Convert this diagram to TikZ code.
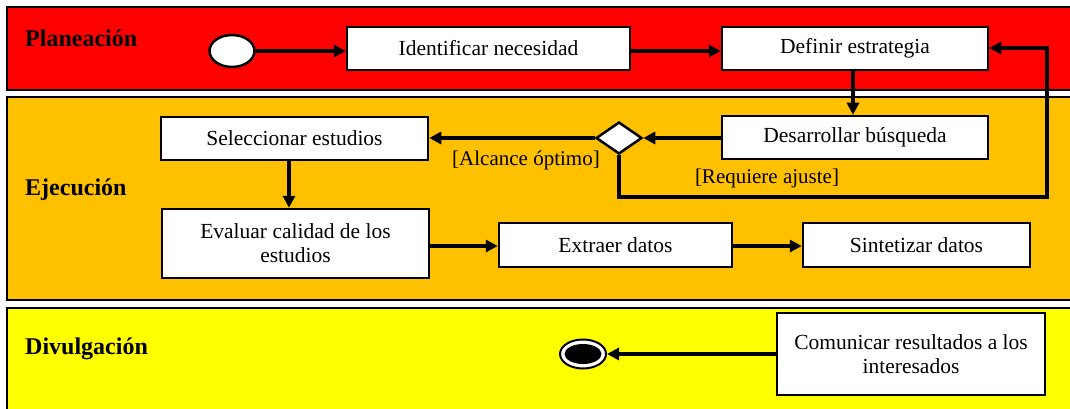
\documentclass[tikz,border=0pt]{standalone}
\usepackage{fontspec}
\setmainfont{Liberation Serif}
\usetikzlibrary{shapes.geometric,arrows.meta}
\definecolor{lanered}{HTML}{FF0000}
\definecolor{laneorange}{HTML}{FFC000}
\definecolor{laneyellow}{HTML}{FFFF00}
\begin{document}
\begin{tikzpicture}[x=1pt,y=-1pt,
  lane/.style={draw=black,line width=2.5pt},
  act/.style={draw=black,fill=white,line width=2.5pt,minimum width=#1,minimum height=43pt,inner sep=0pt,align=center,font=\fontsize{21.5}{24}\selectfont},
  act/.default=266pt,
  flow/.style={line width=3.2pt,-{Triangle[length=12pt,width=12pt]}},
  lanelabel/.style={anchor=west,font=\fontsize{24}{27}\selectfont\bfseries,inner sep=0pt},
  guard/.style={font=\fontsize{21}{24}\selectfont,inner sep=0pt}
]
\useasboundingbox (0,0) rectangle (1070,409);
\fill[white] (0,0) rectangle (1070,409);
% lanes
\draw[lane,fill=lanered] (7,7) rectangle (1080,90);
\draw[lane,fill=laneorange] (7,97) rectangle (1080,300);
\draw[lane,fill=laneyellow] (7,308) rectangle (1080,418);
\node[lanelabel] (lp) at (25,38) {Planeación};
\node[lanelabel] (le) at (25,190) {Ejecución};
\node[lanelabel] (ld) at (25,349) {Divulgación};
% nodes
\node[draw=black,fill=white,line width=2.5pt,ellipse,minimum width=45pt,minimum height=32pt,inner sep=0pt] (start) at (232,51) {};
\node[act=283pt] (ident) at (488.5,48.5) {Identificar necesidad};
\node[act] (defin) at (855,48.5) {Definir estrategia};
\node[act] (desar) at (855,137.5) {Desarrollar búsqueda};
\node[draw=black,fill=white,line width=2.5pt,diamond,minimum width=46pt,minimum height=32pt,inner sep=0pt] (dec) at (619,138) {};
\node[act=267pt] (selec) at (294.5,138.5) {Seleccionar estudios};
\node[act=267pt,minimum height=69pt] (evalu) at (295.5,243.5) {Evaluar calidad de los\\estudios};
\node[act=233pt,minimum height=44pt] (extra) at (615.5,245) {Extraer datos};
\node[act=227pt,minimum height=44pt] (sinte) at (916.5,245) {Sintetizar datos};
\node[act=268pt,minimum height=82pt] (comun) at (911,354) {Comunicar resultados a los\\interesados};
\node[draw=black,line width=2pt,fill=white,ellipse,minimum width=46pt,minimum height=29pt,inner sep=0pt] (endo) at (583,354) {};
\node[fill=black,ellipse,minimum width=37pt,minimum height=20pt,inner sep=0pt] (endi) at (583,354) {};
% coordinates
\coordinate (c1) at (619,197);
\coordinate (c2) at (1047,197);
\coordinate (c3) at (1047,48);
\coordinate (vx1) at (853,0);
\coordinate (vx2) at (289,0);
% flows
\draw[flow] (start.east) -- (ident.west |- start.east);
\draw[flow] (ident.east |- 0,51) -- (defin.west |- 0,51);
\draw[flow] (defin.south -| vx1) -- (desar.north -| vx1);
\draw[flow] (desar.west |- dec.east) -- (dec.east);
\draw[flow] (dec.west) -- (selec.east |- dec.west);
\draw[flow] (dec.south) -- (c1) -- (c2) -- (c3) -- (defin.east |- c3);
\draw[flow] (selec.south -| vx2) -- (evalu.north -| vx2);
\draw[flow] (evalu.east |- 0,246) -- (extra.west |- 0,246);
\draw[flow] (extra.east |- 0,246) -- (sinte.west |- 0,246);
\draw[flow] (comun.west |- endo) -- (endo.east);
% guards
\node[guard] (g1) at (526,160) {[Alcance óptimo]};
\node[guard] (g2) at (767,178) {[Requiere ajuste]};
\end{tikzpicture}
\end{document}
